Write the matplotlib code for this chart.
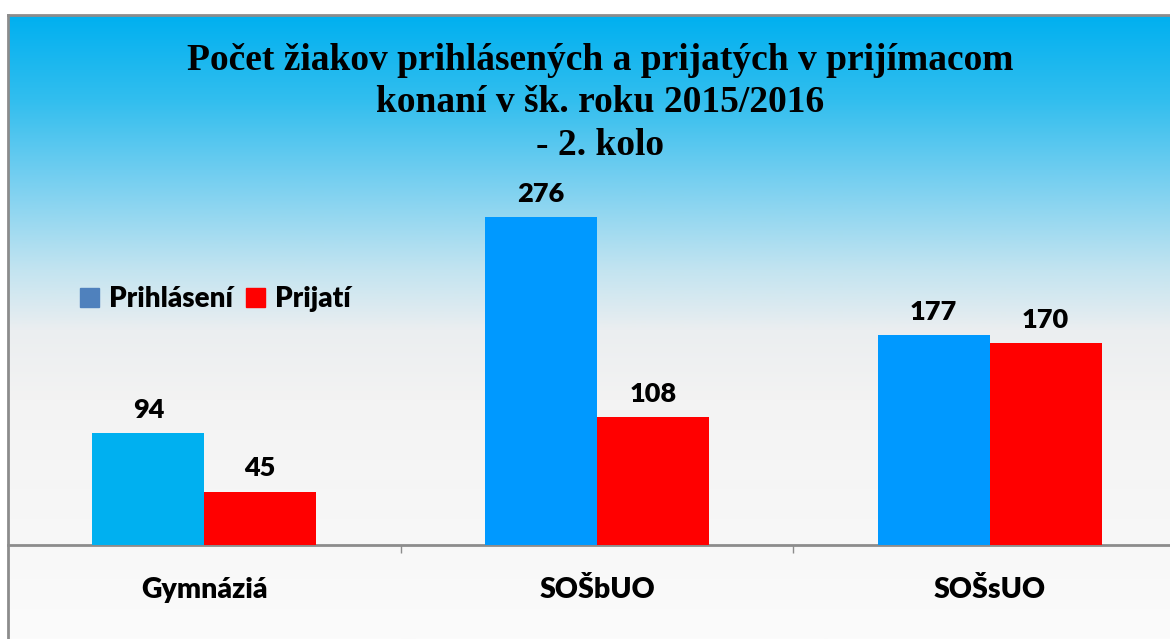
import numpy as np
import matplotlib
matplotlib.use("Agg")
import matplotlib.pyplot as plt
from matplotlib.patches import Patch

# ============ DATA ============
categories = ["Gymnáziá", "SOŠbUO", "SOŠsUO"]
prihlaseni = [94, 276, 177]
prijati = [45, 108, 170]
series_labels = ["Prihlásení", "Prijatí"]
title = ("Počet žiakov prihlásených a prijatých v prijímacom\n"
         "konaní v šk. roku 2015/2016\n- 2. kolo")

# ============ STYLE ============
BLUE_BARS = ["#00B0F0", "#0099FF", "#0099FF"]
RED = "#FF0000"
LEGEND_BLUE = "#4F81BD"
FRAME = "#8C8C8C"
SANS = ["Lato", "DejaVu Sans"]
SERIF = ["Liberation Serif", "DejaVu Serif"]
HEAVY = "heavy"

W, H = 1170, 639
fig = plt.figure(figsize=(W / 100, H / 100), dpi=100)
fig.patch.set_facecolor("white")


def fx(px):
    return px / W


def fy(py):
    return 1 - py / H


# background frame with vertical gradient (pixel row -> rgb)
stops_y = [15, 100, 170, 270, 330, 400, 639]
stops_c = np.array([
    (0, 176, 240), (50, 190, 238), (110, 205, 240), (195, 228, 240),
    (235, 238, 240), (243, 243, 243), (251, 251, 251),
]) / 255
rows = np.linspace(15, 639, 600)
grad = np.stack([np.interp(rows, stops_y, stops_c[:, i]) for i in range(3)],
                axis=-1)[:, None, :]

bg = fig.add_axes([fx(8), 0, 1.05, fy(15)])
bg.imshow(grad, aspect="auto", extent=(0, 1, 0, 1), interpolation="bilinear")
bg.set_xlim(0, 1); bg.set_ylim(0, 1)
bg.set_xticks([]); bg.set_yticks([])
for s in ["right", "bottom"]:
    bg.spines[s].set_visible(False)
for s in ["left", "top"]:
    bg.spines[s].set_color(FRAME)
    bg.spines[s].set_linewidth(2)

# ============ BARS ============
ax = fig.add_axes([fx(8), fy(545), fx(1186) - fx(8), fy(15) - fy(545)])
ax.set_facecolor("none")
x = np.arange(len(categories))
bw = 0.285
b1 = ax.bar(x - bw / 2, prihlaseni, bw, color=BLUE_BARS, zorder=3)
b2 = ax.bar(x + bw / 2, prijati, bw, color=RED, zorder=3)
for bars in (b1, b2):
    ax.bar_label(bars, padding=8, fontsize=19.5, fontweight=HEAVY,
                 family=SANS, color="black")

ax.set_xlim(-0.5, 2.5)
ax.set_ylim(0, 530 / 1.188)
ax.set_yticks([])
for s in ["left", "right", "top"]:
    ax.spines[s].set_visible(False)
ax.spines["bottom"].set_color(FRAME)
ax.spines["bottom"].set_linewidth(2)
ax.set_xticks(x)
ax.set_xticklabels(categories, fontsize=20.5, fontweight=HEAVY, family=SANS)
ax.tick_params(axis="x", which="major", length=0, pad=23)
ax.set_xticks([0.5, 1.5], minor=True)
ax.tick_params(axis="x", which="minor", length=6, width=1, color=FRAME)

# legend
handles = [Patch(color=LEGEND_BLUE), Patch(color=RED)]
fig.legend(handles, series_labels, loc="center left",
           bbox_to_anchor=(fx(80), fy(299)), ncol=2, frameon=False,
           borderpad=0, borderaxespad=0,
           handlelength=0.68, handleheight=0.68, handletextpad=0.38,
           columnspacing=0.45,
           prop={"family": SANS, "weight": HEAVY, "size": 20})

# title
fig.text(fx(600), fy(103), title, ha="center", va="center",
         family=SERIF, fontweight="bold", fontsize=27, linespacing=1.28)

fig.savefig("out.png", dpi=100)
